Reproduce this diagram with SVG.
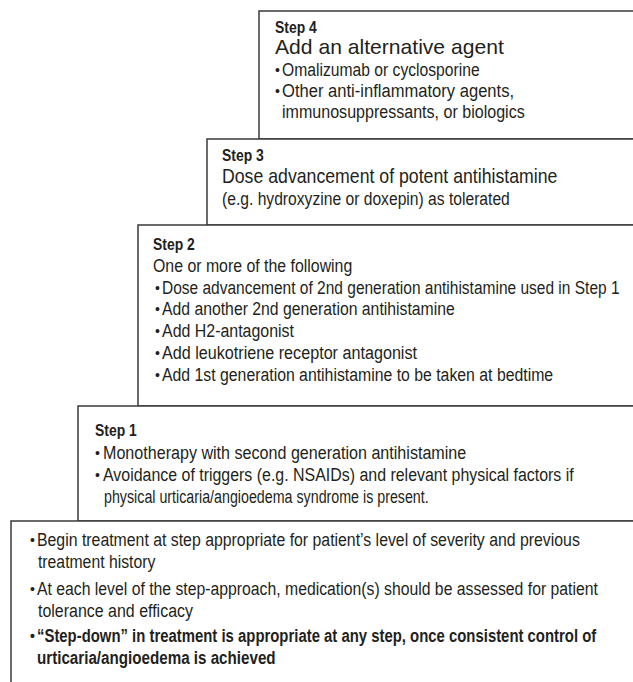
<svg xmlns="http://www.w3.org/2000/svg" width="633" height="682" viewBox="0 0 633 682">
<style>
.box{fill:#fff;stroke:#3a3a3a;stroke-width:1.5}
text{font-family:"Liberation Sans",Arial,sans-serif;fill:#231f20}
.t{font-size:19px}
.s{font-size:20px}
.h{font-size:17px;font-weight:bold}
.b{font-size:19px;font-weight:bold}
.d{font-size:14px}
.db{font-size:14px;font-weight:bold}
</style>
<rect width="633" height="682" fill="#fff"/>
<g id="connectors"/>
<g id="step4">
<rect class="box" x="259" y="11" width="400" height="128"/>
<text class="h" transform="translate(275 33) scale(0.82 1)">Step 4</text>
<text class="s" transform="translate(275 54) scale(0.82 1)" textLength="279" lengthAdjust="spacingAndGlyphs">Add an alternative agent</text>
<text class="d" x="275" y="75">•</text>
<text class="t" transform="translate(282 76) scale(0.82 1)" textLength="241" lengthAdjust="spacingAndGlyphs">Omalizumab or cyclosporine</text>
<text class="d" x="275" y="96">•</text>
<text class="t" transform="translate(282 97) scale(0.82 1)" textLength="283" lengthAdjust="spacingAndGlyphs">Other anti-inflammatory agents,</text>
<text class="t" transform="translate(282 118) scale(0.82 1)" textLength="296" lengthAdjust="spacingAndGlyphs">immunosuppressants, or biologics</text>
</g>
<g id="step3">
<rect class="box" x="207" y="139" width="450" height="86"/>
<text class="h" transform="translate(222 161) scale(0.82 1)">Step 3</text>
<text class="s" transform="translate(222 183) scale(0.82 1)" textLength="409" lengthAdjust="spacingAndGlyphs">Dose advancement of potent antihistamine</text>
<text class="t" transform="translate(222 205) scale(0.82 1)" textLength="351" lengthAdjust="spacingAndGlyphs">(e.g. hydroxyzine or doxepin) as tolerated</text>
</g>
<g id="step2">
<rect class="box" x="138" y="225" width="520" height="181"/>
<text class="h" transform="translate(153 250) scale(0.82 1)">Step 2</text>
<text class="t" transform="translate(153 272) scale(0.82 1)" textLength="243" lengthAdjust="spacingAndGlyphs">One or more of the following</text>
<text class="d" x="155" y="293">•</text>
<text class="t" transform="translate(162 294) scale(0.82 1)" textLength="558" lengthAdjust="spacingAndGlyphs">Dose advancement of 2nd generation antihistamine used in Step 1</text>
<text class="d" x="155" y="314">•</text>
<text class="t" transform="translate(162 315) scale(0.82 1)" textLength="357" lengthAdjust="spacingAndGlyphs">Add another 2nd generation antihistamine</text>
<text class="d" x="155" y="336">•</text>
<text class="t" transform="translate(162 337) scale(0.82 1)" textLength="161" lengthAdjust="spacingAndGlyphs">Add H2-antagonist</text>
<text class="d" x="155" y="358">•</text>
<text class="t" transform="translate(162 359) scale(0.82 1)" textLength="311" lengthAdjust="spacingAndGlyphs">Add leukotriene receptor antagonist</text>
<text class="d" x="155" y="380">•</text>
<text class="t" transform="translate(162 381) scale(0.82 1)" textLength="477" lengthAdjust="spacingAndGlyphs">Add 1st generation antihistamine to be taken at bedtime</text>
</g>
<g id="step1">
<rect class="box" x="78" y="406" width="580" height="115"/>
<text class="h" transform="translate(95 436) scale(0.82 1)">Step 1</text>
<text class="d" x="95" y="458">•</text>
<text class="t" transform="translate(103 459) scale(0.82 1)" textLength="443" lengthAdjust="spacingAndGlyphs">Monotherapy with second generation antihistamine</text>
<text class="d" x="95" y="480">•</text>
<text class="t" transform="translate(103 481) scale(0.82 1)" textLength="574" lengthAdjust="spacingAndGlyphs">Avoidance of triggers (e.g. NSAIDs) and relevant physical factors if</text>
<text class="t" transform="translate(104 503) scale(0.82 1)" textLength="396" lengthAdjust="spacingAndGlyphs">physical urticaria/angioedema syndrome is present.</text>
</g>
<g id="notes">
<rect class="box" x="11" y="521" width="650" height="180"/>
<text class="d" x="30" y="545">•</text>
<text class="t" transform="translate(37 546) scale(0.82 1)" textLength="662" lengthAdjust="spacingAndGlyphs">Begin treatment at step appropriate for patient’s level of severity and previous</text>
<text class="t" transform="translate(38 568) scale(0.82 1)" textLength="143" lengthAdjust="spacingAndGlyphs">treatment history</text>
<text class="d" x="30" y="594">•</text>
<text class="t" transform="translate(37 595) scale(0.82 1)" textLength="684" lengthAdjust="spacingAndGlyphs">At each level of the step-approach, medication(s) should be assessed for patient</text>
<text class="t" transform="translate(38 617) scale(0.82 1)" textLength="189" lengthAdjust="spacingAndGlyphs">tolerance and efficacy</text>
<text class="db" x="30" y="641">•</text>
<text class="b" transform="translate(37 642) scale(0.82 1)" textLength="682" lengthAdjust="spacingAndGlyphs">“Step-down” in treatment is appropriate at any step, once consistent control of</text>
<text class="b" transform="translate(37 664) scale(0.82 1)" textLength="291" lengthAdjust="spacingAndGlyphs">urticaria/angioedema is achieved</text>
</g>
</svg>
